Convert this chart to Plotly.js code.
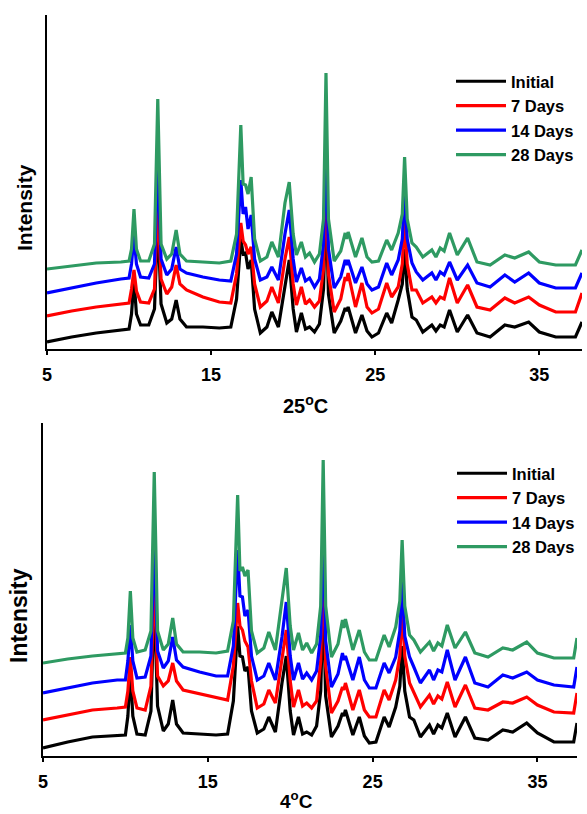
<!DOCTYPE html>
<html>
<head>
<meta charset="utf-8">
<script src="https://cdn.plot.ly/plotly-3.0.1.min.js"></script>
<style>html,body{margin:0;padding:0;background:#fff;}#chart{width:587px;height:814px;}</style>
</head>
<body>
<div id="chart"></div>
<script>
// 2-theta positions (degrees)
const twoThetaTop = [5.0,6.5,8.0,9.5,10.0,10.15,10.3,10.45,10.7,11.2,
  11.55,11.75,11.95,12.3,12.6,12.87,13.1,13.5,14.5,15.5,
  16.2,16.55,16.81,16.95,17.1,17.25,17.44,17.65,18.0,18.4,
  18.7,19.1,19.5,19.76,20.0,20.2,20.5,20.75,21.0,21.3,
  21.6,21.85,22.0,22.15,22.5,22.9,23.17,23.25,23.35,23.8,
  24.19,24.5,24.8,25.2,25.7,26.0,26.4,26.65,26.79,26.95,
  27.24,27.5,27.9,28.45,28.7,28.96,29.2,29.53,30.0,30.63,
  31.2,32.0,32.9,33.5,34.35,35.0,36.0,37.2,37.6];
const twoThetaBottom = [5.0,6.5,8.0,9.5,10.0,10.15,10.3,10.45,10.7,11.2,
  11.55,11.75,11.95,12.3,12.6,12.87,13.1,13.5,14.5,15.5,
  16.2,16.55,16.81,16.95,17.1,17.25,17.44,17.65,18.0,18.4,
  18.7,19.1,19.5,19.76,20.0,20.2,20.5,20.75,21.0,21.3,
  21.6,21.85,22.0,22.15,22.5,22.9,23.17,23.25,23.35,23.8,
  24.19,24.5,24.8,25.2,25.7,26.0,26.4,26.65,26.79,26.95,
  27.24,27.5,27.9,28.45,28.7,28.96,29.2,29.53,30.0,30.63,
  31.2,32.0,32.9,33.5,34.35,35.0,36.0,37.2,37.4];

const seriesNames = ["Initial", "7 Days", "14 Days", "28 Days"];
const seriesColors = ["#000000", "#ff0000", "#0000ff", "#2e9a62"];

// 25 C panel (stacked intensities, arbitrary units)
const top_initial = [7,12,16,19,20,35,70,35,24,24,
  40,130,45,26,30,49,30,22,22,21,
  22,50,110,95,96,80,89,40,16,22,
  37,22,65,89,40,17,36,20,22,17,
  25,60,150,55,16,28,41,38,42,16,
  34,18,12,16,36,26,49,65,100,60,
  32,29,17,24,18,24,22,39,17,34,
  16,12,24,22,27,17,12,12,27];
const top_7d = [33,38,42,45,46,60,79,58,47,46,
  60,149,70,55,62,84,65,59,52,47,
  46,75,126,108,104,95,102,65,42,48,
  62,46,90,112,65,44,62,45,49,42,
  48,80,177,75,37,50,72,68,76,42,
  66,42,36,40,66,52,62,85,132,85,
  59,59,46,52,46,52,50,71,46,64,
  42,39,51,46,52,44,37,37,56];
const top_14d = [56,61,66,70,71,85,114,85,72,71,
  85,187,90,74,80,102,80,76,72,69,
  68,95,169,135,142,120,134,90,69,72,
  82,69,115,139,90,67,81,68,71,62,
  70,105,206,100,61,72,89,84,89,66,
  82,65,59,62,86,74,89,110,159,110,
  86,77,69,76,69,77,74,87,69,84,
  66,62,74,67,76,66,61,61,76];
const top_28d = [80,83,86,87,88,100,140,100,88,88,
  105,250,105,90,95,119,95,88,87,86,
  88,115,224,165,164,155,172,110,88,92,
  107,92,146,167,115,94,107,92,96,87,
  95,130,276,130,88,98,116,110,117,92,
  111,92,87,88,109,99,116,135,192,130,
  106,102,92,99,92,101,98,116,94,111,
  87,84,94,91,97,87,84,84,99];

// 4 C panel
const bot_initial = [8,14,19,21,21,40,85,40,22,21,
  45,160,50,25,32,56,32,23,22,21,
  22,55,130,100,99,85,89,45,23,27,
  39,24,73,100,45,21,39,22,24,21,
  30,65,160,60,19,30,43,40,46,21,
  39,20,13,14,39,29,49,70,110,65,
  39,36,19,31,22,31,28,43,19,39,
  18,16,26,24,33,23,14,14,33];
const bot_7d = [36,41,46,48,49,65,99,65,48,46,
  70,183,80,70,75,93,75,66,62,58,
  56,90,153,130,126,115,109,75,48,52,
  66,53,99,126,75,49,66,50,53,48,
  55,95,200,90,43,55,69,66,73,46,
  66,46,39,39,66,56,76,100,149,100,
  73,63,49,61,52,60,57,74,49,71,
  48,46,54,53,59,51,44,43,63];
const bot_14d = [63,68,73,76,76,95,131,95,78,79,
  100,219,105,88,95,119,96,89,84,80,
  80,110,206,160,159,140,146,100,76,80,
  93,76,119,154,100,76,93,77,83,76,
  85,120,239,115,69,82,103,96,100,76,
  99,76,68,68,93,83,99,125,176,120,
  99,89,73,86,76,86,84,106,76,99,
  73,69,81,78,84,76,71,69,89];
const bot_28d = [93,97,100,102,103,118,165,118,104,106,
  125,284,125,106,112,138,112,104,104,103,
  105,135,261,185,189,180,186,125,103,108,
  124,106,156,188,130,106,123,106,113,103,
  112,150,296,150,99,112,136,128,137,106,
  126,104,96,96,121,109,129,155,216,150,
  121,116,104,114,105,113,110,131,108,124,
  103,99,108,106,114,103,98,98,118];

const xTickVals = [5, 15, 25, 35];
const xTickText = ["5", "15", "25", "35"];

const W = 587, H = 814;
const fx = p => p / W;
const fy = p => 1 - p / H;

const topSeries = [top_initial, top_7d, top_14d, top_28d];
const botSeries = [bot_initial, bot_7d, bot_14d, bot_28d];

const traces = [];
topSeries.forEach((ys, i) => {
  traces.push({type: 'scatter', mode: 'lines', x: twoThetaTop, y: ys, name: seriesNames[i],
    xaxis: 'x', yaxis: 'y', legend: 'legend',
    line: {color: seriesColors[i], width: 3.2}});
});
botSeries.forEach((ys, i) => {
  traces.push({type: 'scatter', mode: 'lines', x: twoThetaBottom, y: ys, name: seriesNames[i],
    xaxis: 'x2', yaxis: 'y2', legend: 'legend2',
    line: {color: seriesColors[i], width: 3.2}});
});

const fontFam = 'Liberation Sans, Arial, sans-serif';
function xAxisDef(domain, range, anchor) {
  return {domain: domain, range: range, anchor: anchor,
    tickmode: 'array', tickvals: xTickVals, ticktext: xTickText,
    showline: true, linewidth: 2, linecolor: '#000', mirror: false,
    ticks: 'outside', ticklen: 4, tickwidth: 2, tickcolor: '#000',
    ticklabelstandoff: 4,
    tickfont: {family: fontFam, size: 18, color: '#000', weight: 'bold'},
    showgrid: false, zeroline: false, fixedrange: true};
}
function yAxisDef(domain, range, anchor) {
  return {domain: domain, range: range, anchor: anchor,
    showline: true, linewidth: 2, linecolor: '#000',
    ticks: '', showticklabels: false, showgrid: false, zeroline: false, fixedrange: true};
}
function legendDef(x, y) {
  return {x: x, y: y, xanchor: 'left', yanchor: 'top', bgcolor: 'rgba(0,0,0,0)',
    borderwidth: 0, itemwidth: 50, tracegroupgap: 0, traceorder: 'normal',
    font: {family: fontFam, size: 16.5, color: '#000', weight: 'bold'}};
}

const layout = {
  width: W, height: H,
  margin: {l: 0, r: 0, t: 0, b: 0},
  paper_bgcolor: '#fff', plot_bgcolor: '#fff',
  showlegend: true,
  font: {family: fontFam, color: '#000'},
  xaxis: xAxisDef([fx(47), fx(582)], [5, 37.6], 'y'),
  yaxis: yAxisDef([fy(349), fy(15)], [0, 334], 'x'),
  xaxis2: xAxisDef([fx(43), fx(577)], [5, 37.4], 'y2'),
  yaxis2: yAxisDef([fy(756), fy(423)], [0, 333], 'x2'),
  legend: legendDef(fx(451), fy(64)),
  legend2: legendDef(fx(452), fy(456)),
  annotations: [
    {text: 'Intensity', xref: 'paper', yref: 'paper', x: fx(24), y: fy(208), textangle: -90,
      showarrow: false, xanchor: 'center', yanchor: 'middle',
      font: {family: fontFam, size: 21, color: '#000', weight: 'bold'}},
    {text: 'Intensity', xref: 'paper', yref: 'paper', x: fx(19), y: fy(616), textangle: -90,
      showarrow: false, xanchor: 'center', yanchor: 'middle',
      font: {family: fontFam, size: 23, color: '#000', weight: 'bold'}},
    {text: '25<sup>o</sup>C', xref: 'paper', yref: 'paper', x: fx(305), y: fy(405),
      showarrow: false, xanchor: 'center', yanchor: 'middle',
      font: {family: fontFam, size: 20, color: '#000', weight: 'bold'}},
    {text: '4<sup>o</sup>C', xref: 'paper', yref: 'paper', x: fx(297), y: fy(800),
      showarrow: false, xanchor: 'center', yanchor: 'middle',
      font: {family: fontFam, size: 19, color: '#000', weight: 'bold'}}
  ]
};

Plotly.newPlot('chart', traces, layout, {displayModeBar: false, staticPlot: true});
</script>
</body>
</html>
